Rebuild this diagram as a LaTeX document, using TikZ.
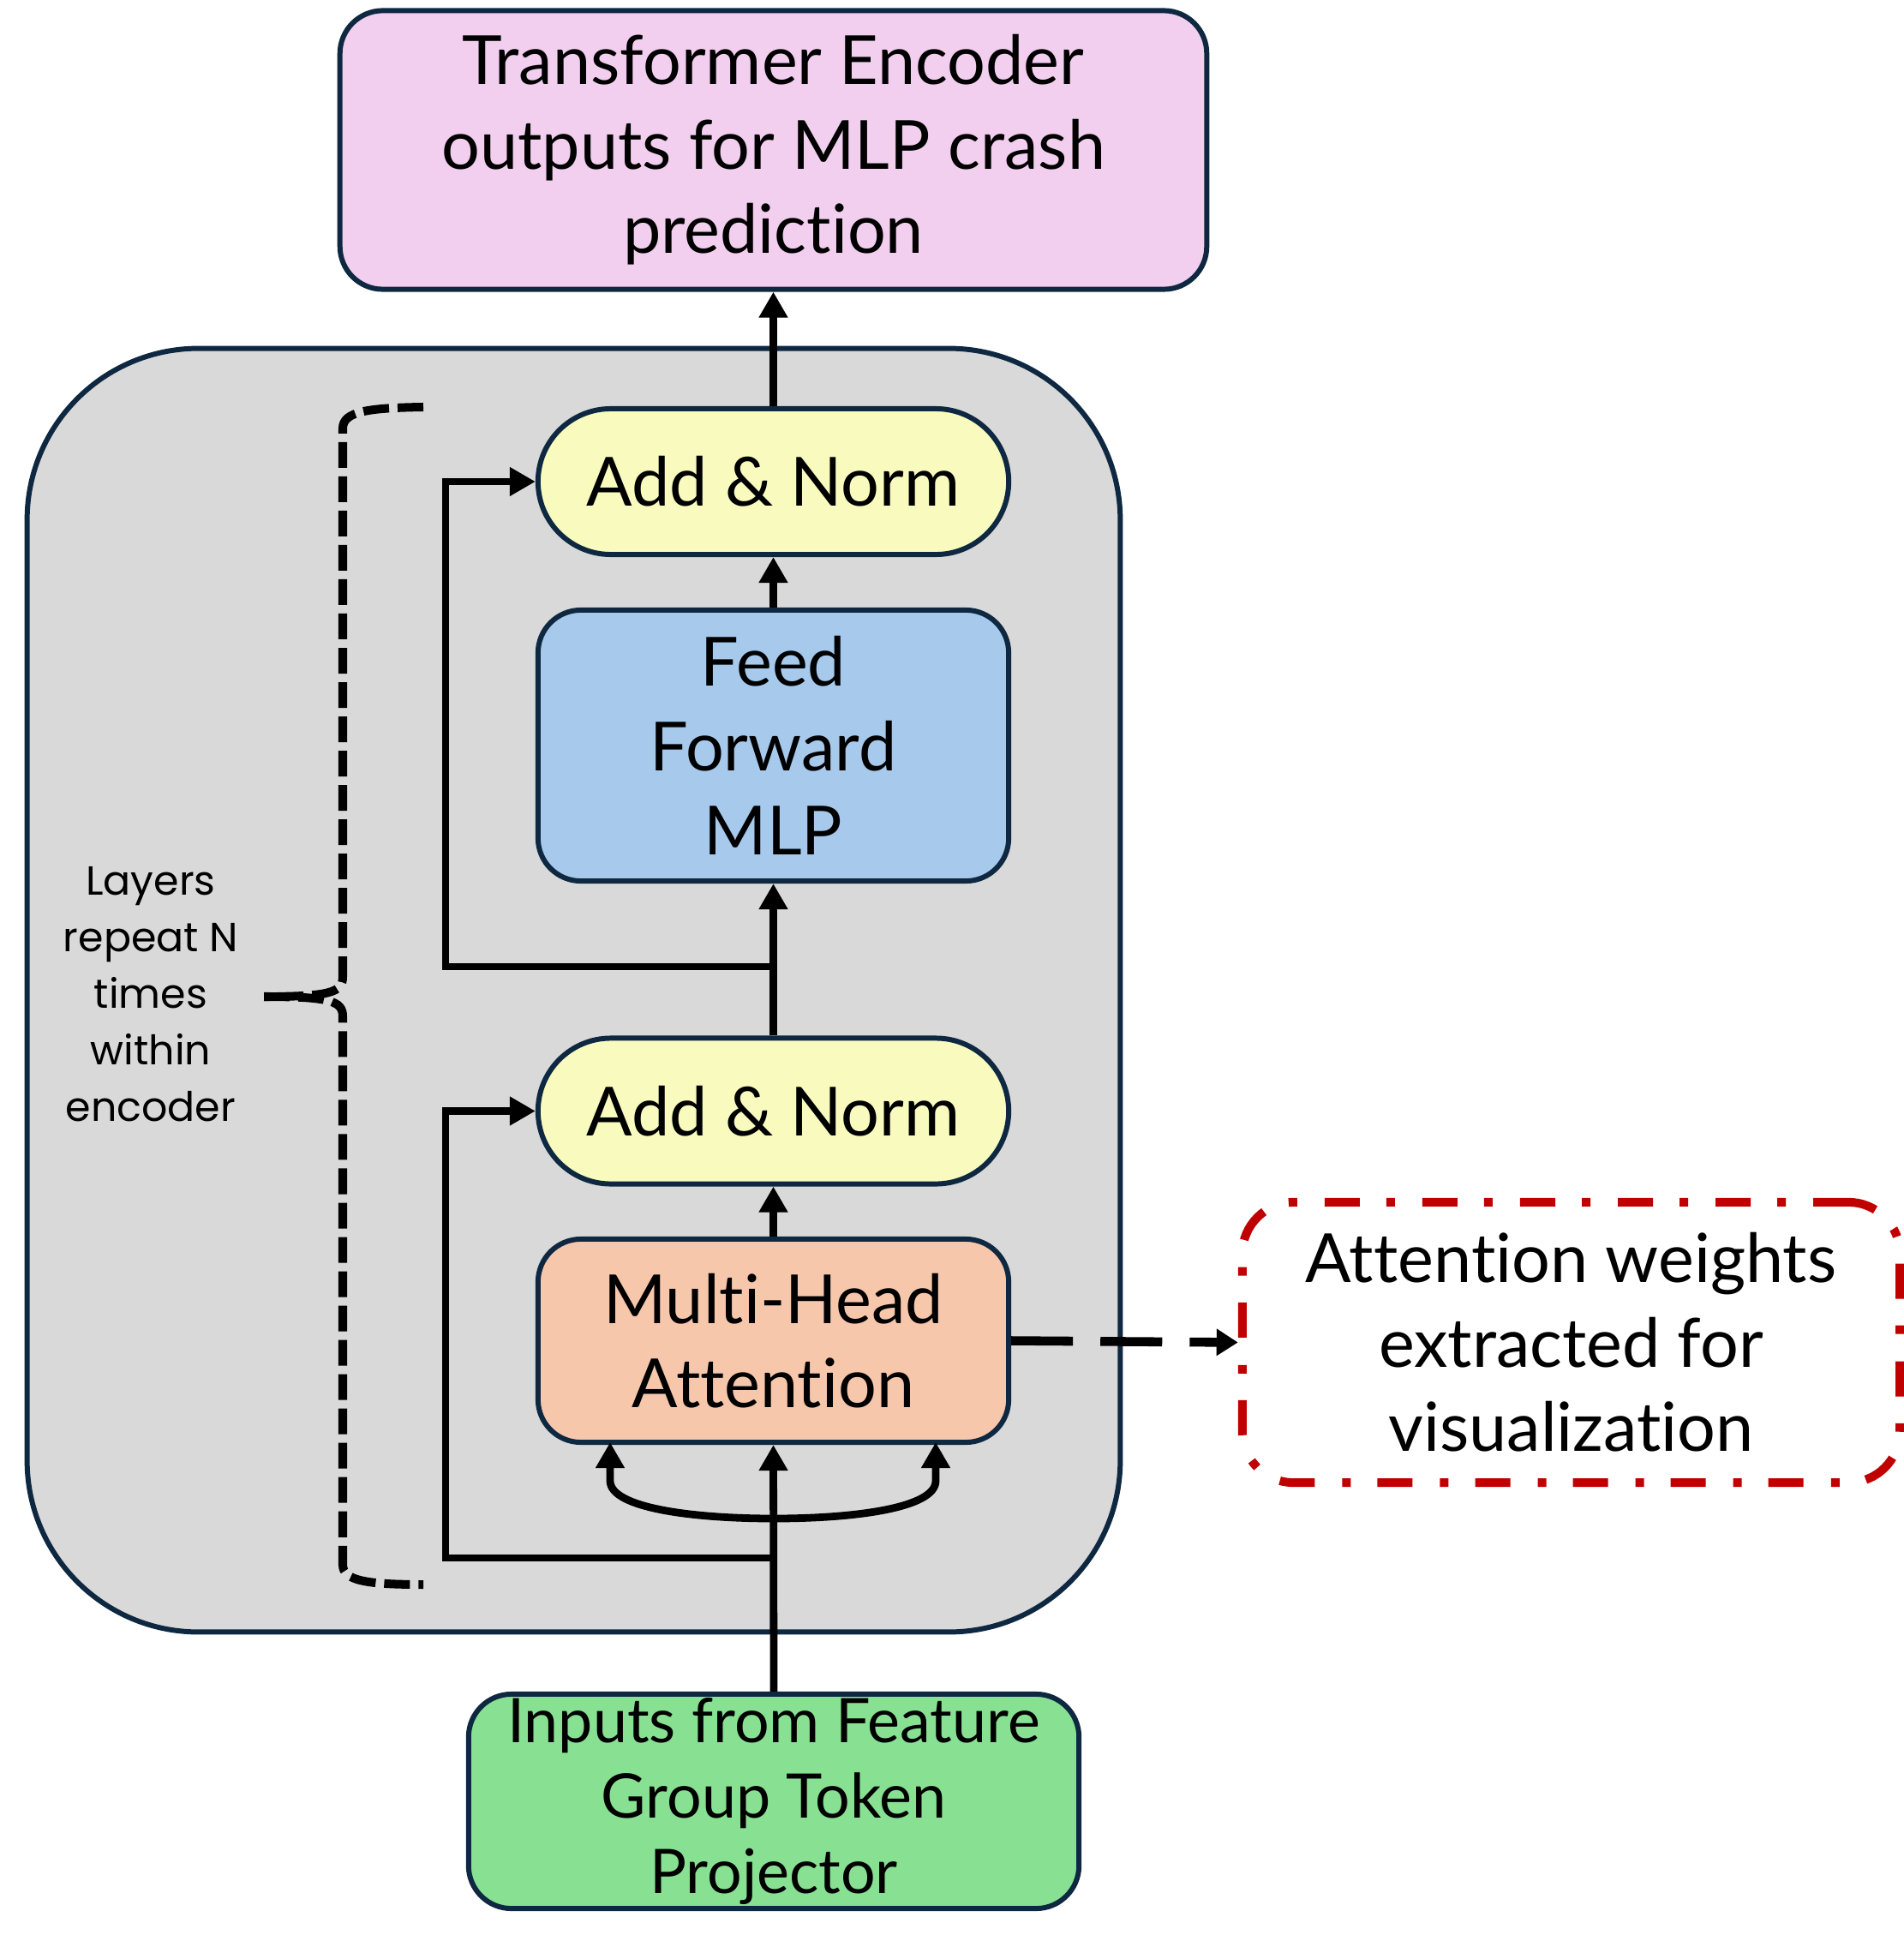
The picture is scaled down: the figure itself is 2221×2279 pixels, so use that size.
\documentclass[tikz,border=0pt]{standalone}
\usepackage{fontspec}
\setmainfont{Lato}[Ligatures=NoCommon]
\newfontfamily\notefont{Poppins}
\usepackage{tikz}
\usetikzlibrary{%
	arrows.meta,%
	positioning%
}

\definecolor{encpink}{HTML}{F2CEEF}
\definecolor{encgray}{HTML}{D9D9D9}
\definecolor{normyellow}{HTML}{F8FABE}
\definecolor{ffblue}{HTML}{A6C9EC}
\definecolor{attpeach}{HTML}{F7C7AC}
\definecolor{inpgreen}{HTML}{88E092}
\definecolor{edgenavy}{HTML}{0E2841}
\definecolor{wtred}{HTML}{C00000}

\tikzset{
	box/.style={draw=edgenavy,line width=1.7pt,rounded corners=0.5cm,align=center,
		font=\fontsize{22.5}{28}\selectfont,inner sep=0pt},
	normbox/.style={box,fill=normyellow,minimum width=5.49cm,minimum height=1.70cm,rounded corners=0.85cm},
	flow/.style={line width=2.5pt,-{Triangle[length=0.3cm,width=0.32cm]}},
	bracedash/.style={line width=2.85pt,dash pattern=on 0.3cm off 0.1cm}
}

\begin{document}
\begin{tikzpicture}[x=0.01cm,y=-0.01cm]
\useasboundingbox (0,0) rectangle (2221,2279);

% Encoder block
\node [draw=edgenavy,line width=1.7pt,fill=encgray,rounded corners=2cm,
	minimum width=12.75cm,minimum height=14.97cm] (encoder) at (669.5,1155.5) {};

% Output
\node [box,fill=encpink,minimum width=10.11cm,minimum height=3.25cm] (output) at (902.5,175)
	{Transformer Encoder\\outputs for MLP crash\\prediction};

% Layers
\node [normbox] (norm2) at (902.5,562) {Add \& Norm};
\node [box,fill=ffblue,minimum width=5.49cm,minimum height=3.16cm] (ff) at (902.5,870)
	{Feed\\Forward\\MLP};
\node [normbox] (norm1) at (902.5,1296.5) {Add \& Norm};
\node [box,fill=attpeach,minimum width=5.49cm,minimum height=2.37cm] (mha) at (902.5,1564.5)
	{Multi-Head\\Attention};

% Input
\node [box,fill=inpgreen,minimum width=7.12cm,minimum height=2.5cm,
	font=\fontsize{20.4}{25}\selectfont] (inputs) at (903,2102)
	{Inputs from Feature\\Group Token\\Projector};

% Attention weights
\node [draw=wtred,line width=2.85pt,rounded corners=0.6cm,
	dash pattern=on 0.41cm off 0.32cm on 0.1cm off 0.31cm,
	minimum width=7.67cm,minimum height=3.27cm,align=center,
	font=\fontsize{22.5}{28}\selectfont] (weights) at (1833.5,1566.5)
	{Attention weights\\extracted for\\visualization};

% Note
\node [align=center,font=\notefont\fontsize{13.5}{18.8}\selectfont] (note) at (176,1160)
	{Layers\\repeat N\\times\\within\\encoder};

% Main path
\coordinate (split1) at (903,1818);
\coordinate (split2) at (903,1128);
\draw [flow] (inputs.north) -- (mha.south);
\draw [flow] (mha.north) -- (norm1.south);
\draw [flow] (norm1.north) -- (ff.south);
\draw [flow] (ff.north) -- (norm2.south);
\draw [flow] (norm2.north) -- (output.south);

% Query / key / value branches
\coordinate (qtip) at (712,1683);
\coordinate (vtip) at (1092,1683);
\draw [line width=2.5pt,{Triangle[length=0.3cm,width=0.32cm]}-{Triangle[length=0.3cm,width=0.32cm]}]
	(qtip) -- (712,1728) .. controls (712,1760) and (810,1772) .. (903,1772)
	.. controls (996,1772) and (1092,1760) .. (1092,1728) -- (vtip);

% Residuals
\draw [flow] (split1) -- (520,1818) -- (520,1296.5) -- (norm1.west);
\draw [flow] (split2) -- (520,1128) -- (520,562) -- (norm2.west);

% Weights out
\draw [line width=3pt,dash pattern=on 0.72cm off 0.32cm,-{Triangle[length=0.25cm,width=0.3cm]}]
	(mha.east) -- (weights.west);

% Brace
\coordinate (bracetip) at (308,1163);
\draw [bracedash]
	(494,475) .. controls (430,476) and (400,480) .. (400,500) -- (400,1140)
	.. controls (400,1158) and (385,1163) .. (bracetip);
\draw [bracedash]
	(bracetip) .. controls (385,1163) and (400,1168) .. (400,1186) -- (400,1826)
	.. controls (400,1845) and (430,1849) .. (494,1849);
\end{tikzpicture}
\end{document}
